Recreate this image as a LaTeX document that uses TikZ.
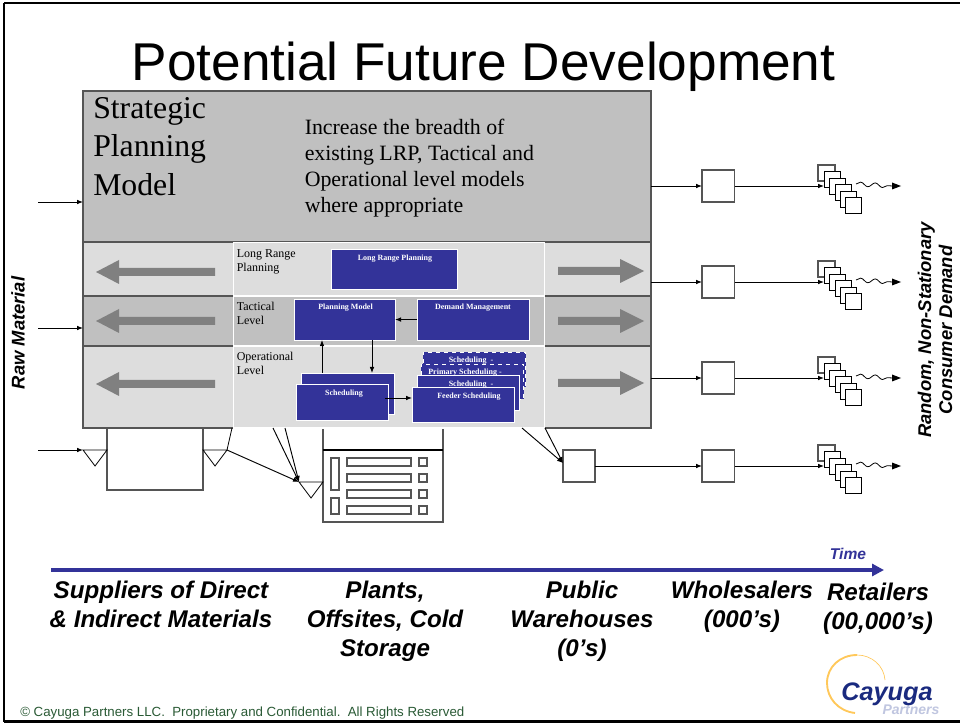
\documentclass[tikz,border=0pt]{standalone}
\usepackage{fontspec}
\setmainfont{Liberation Sans}
\newfontfamily\serifface{Liberation Serif}
\usetikzlibrary{arrows.meta,decorations.pathmorphing,calc}
\definecolor{panelblue}{HTML}{333399}
\definecolor{lightg}{HTML}{DDDDDD}
\definecolor{midg}{HTML}{C0C0C0}
\definecolor{edgeg}{HTML}{555555}
\definecolor{arrowg}{HTML}{808080}
\definecolor{footg}{HTML}{2A5A35}
\definecolor{logoy}{HTML}{FFC85A}
\definecolor{logob}{HTML}{1A2A7F}
\definecolor{logop}{HTML}{C0C6E0}
\tikzset{
 x=0.75pt,y=-0.75pt,
 band/.style={draw=edgeg,line width=1pt},
 inband/.style={draw=white,line width=1pt},
 bluebox/.style={draw=white,fill=panelblue,line width=0.7pt,inner sep=0pt,outer sep=0pt,anchor=north west},
 bluetxt/.style={text=white,font=\serifface\bfseries\fontsize{6}{7}\selectfont,anchor=north},
 flow/.style={draw=black,line width=0.7pt,-{Latex[length=4.5pt,width=3.5pt]}},
 thin flow/.style={draw=black,line width=0.6pt},
 sq/.style={draw=edgeg,line width=1pt,fill=white,inner sep=0pt,outer sep=0pt,anchor=north west},
 stacksq/.style={draw=black,line width=0.7pt,fill=white,inner sep=0pt,outer sep=0pt,minimum width=12.4pt,minimum height=12.2pt,anchor=north west},
 tri/.style={draw=black,line width=0.6pt,fill=white},
 gray arrow/.style={fill=arrowg,draw=none},
 lab/.style={font=\bfseries\itshape\fontsize{18.1}{21.8}\selectfont,align=center,text=black},
 sidel/.style={font=\bfseries\itshape\fontsize{13.8}{15.8}\selectfont,align=center,rotate=90},
 lvl/.style={font=\serifface\fontsize{9}{10.5}\selectfont,align=left,anchor=north west,inner sep=0pt},
}
\begin{document}
\begin{tikzpicture}
\useasboundingbox (0,0) rectangle (960,723);
\fill[white] (0,0) rectangle (960,723);
\draw[black,line width=1.6pt] (4,3.4) -- (960,3.4);
\draw[black,line width=1.6pt] (4,3.4) -- (4,721.5);
\draw[black,line width=1.6pt] (4,721.5) -- (960,721.5);
\node[font=\fontsize{39.9}{44}\selectfont,anchor=base] (title) at (483.5,80.5) {Potential Future Development};
% lower left shapes first
\draw[band,fill=white] (107,428) rectangle (203,490);
\draw[band,fill=white] (323,428) rectangle (443,522);
\draw[black,line width=0.8pt] (323,450) -- (443,450);
\foreach \yy in {458,474,490,506}{
 \draw[edgeg,line width=1pt] (347,\yy) rectangle (411,\yy+8);
 \draw[edgeg,line width=1pt] (419,\yy) rectangle (427,\yy+8);
}
\draw[edgeg,line width=1pt] (331,458) rectangle (339,490);
\draw[edgeg,line width=1pt] (331,498) rectangle (339,514);
% bands
\draw[band,fill=midg] (83,91) rectangle (651,242);
\draw[band,fill=lightg] (83,242) rectangle (651,296);
\draw[band,fill=midg] (83,296) rectangle (651,346);
\draw[band,fill=lightg] (83,346) rectangle (651,428);
\filldraw[inband,fill=lightg] (233.5,242.5) rectangle (544.5,295.5);
\filldraw[inband,fill=midg] (233.5,296) rectangle (544.5,346);
\filldraw[inband,fill=lightg] (233.5,346.5) rectangle (544.5,428);
% strategic text
\node[font=\serifface\fontsize{23.8}{28.9}\selectfont,align=left,anchor=north west,inner sep=0pt] (strat) at (93,97) {Strategic\\Planning\\Model};
\node[font=\serifface\fontsize{16.4}{19.5}\selectfont,align=left,anchor=north west,inner sep=0pt] (incr) at (304.5,119) {Increase the breadth of\\existing LRP, Tactical and\\Operational level models\\where appropriate};
% level labels
\node[lvl] (l1) at (236.5,249) {Long Range\\Planning};
\node[lvl] (l2) at (236.5,302) {Tactical\\Level};
\node[lvl] (l3) at (236.5,352) {Operational\\Level};
% gray arrows
\foreach \yy/\yr in {272/271,321/321,384/383}{
 \fill[gray arrow] (215,\yy-4) -- (119,\yy-4) -- (119,\yy-12) -- (96,\yy) -- (119,\yy+12) -- (119,\yy+4) -- (215,\yy+4) -- cycle;
 \fill[gray arrow] (558,\yr-4) -- (620,\yr-4) -- (620,\yr-12) -- (644,\yr) -- (620,\yr+12) -- (620,\yr+4) -- (558,\yr+4) -- cycle;
}
% blue boxes
\node[bluebox,minimum width=95.2pt,minimum height=30pt] (lrp) at (331,249) {};
\node[bluetxt] at (395,250.5) {Long Range Planning};
\node[bluebox,minimum width=75.8pt,minimum height=30.8pt] (pm) at (294,299) {};
\node[bluetxt] at (345.5,299.5) {Planning Model};
\node[bluebox,minimum width=84pt,minimum height=30.8pt] (dm) at (417,299) {};
\node[bluetxt] at (473,299.5) {Demand Management};
\node[bluebox,minimum width=69.8pt,minimum height=30.8pt] (sb) at (301,373) {};
\node[bluebox,minimum width=69pt,minimum height=27pt] (sf) at (296,384) {};
\node[bluetxt] at (344,385.5) {Scheduling};
\node[bluebox,dashed,minimum width=77.2pt,minimum height=26.3pt] (s1) at (423,352) {};
\node[bluetxt] at (471,352) {Scheduling~~-};
\node[bluebox,dashed,minimum width=77.2pt,minimum height=26.3pt] (s2) at (421,364) {};
\node[bluetxt] at (465,364) {Primary Scheduling -};
\node[bluebox,minimum width=76.5pt,minimum height=26.8pt] (s3) at (417,375) {};
\node[bluetxt] at (471,376) {Scheduling~~-};
\node[bluebox,minimum width=76.5pt,minimum height=26.8pt] (s4) at (412,387) {};
\node[bluetxt] at (469,388) {Feeder Scheduling};
\draw[flow] (dm.west) -- (pm.east);
\draw[flow] (sb.north -| 322,0) -- (pm.south -| 322,0);
\draw[flow] (pm.south -| 372,0) -- (sb.north -| 372,0);
\draw[flow] (385,398) -- (s4.west |- 0,398);
% raw material inputs
\coordinate (in1) at (38,202); \coordinate (in2) at (38,328); \coordinate (in3) at (38,450);
\coordinate (b1) at (83,202); \coordinate (b2) at (83,328);
\draw[flow] (in1) -- (b1);
\draw[flow] (in2) -- (b2);
\coordinate (t1) at (83,450); \coordinate (t2) at (227,450); \coordinate (t3) at (299,482);
\draw[flow] (in3) -- (t1);
\draw[tri] (83,450) -- (107,450) -- (95,466) -- cycle;
\draw[tri] (203,450) -- (227,450) -- (215,466) -- cycle;
\draw[tri] (299,482) -- (323,482) -- (311,498) -- cycle;
\draw[thin flow] (232,428) -- (t2);
\draw[flow] (t2) -- (t3);
\draw[flow] (273,428) -- (t3);
\draw[flow] (285,428) -- (t3);
% warehouse
\node[sq,minimum width=24pt,minimum height=24pt] (wh) at (563,450) {};
\coordinate (wh0) at (563,463);
\draw[flow] (522,428) -- (wh0);
\draw[flow] (545,428) -- (wh0);
% right rows
\foreach \nm/\yy/\st in {a/186/651,b/282/651,c/378/651,d/466/595}{
 \node[sq,minimum width=24.4pt,minimum height=24pt] (\nm box) at (702,\yy-16) {};
 \coordinate (\nm src) at (\st,\yy);
 \draw[flow] (\nm src) -- (\nm box.west);
 \draw[edgeg,line width=1pt,fill=white] (818,\yy-21) rectangle (835,\yy-5);
 \draw[flow] (\nm box.east) -- (824,\yy);
 \foreach \i/\dx/\dy in {1/6/-15,2/11/-8,3/17/-2,4/22/5,5/27/11}{
  \node[stacksq] at (818+\dx,\yy+\dy) {};
 }
 \coordinate (\nm w) at (856,\yy-2);
 \coordinate (\nm e) at (893,\yy);
 \draw[black,line width=0.6pt,decorate,decoration={snake,amplitude=1.6pt,segment length=11pt}] (\nm w) -- (\nm e);
 \fill[black] (892,\yy-3.5) -- (901,\yy) -- (892,\yy+3.5) -- cycle;
}
% side labels
\node[sidel] (raw) at (18,333) {Raw Material};
\node[sidel] (cons) at (935,330) {Random, Non-Stationary\\Consumer Demand};
% time axis
\coordinate (ts) at (51,570); \coordinate (te) at (884,570);
\draw[panelblue,line width=2.3pt,-{Triangle[length=9pt,width=9pt]}] (ts) -- (te);
\node[font=\bfseries\itshape\fontsize{11.7}{13}\selectfont,text=panelblue] (time) at (848,554) {Time};
% column labels
\node[lab,anchor=north] (c1) at (161,576) {Suppliers of Direct\\\& Indirect Materials};
\node[lab,anchor=north] (c2) at (385,576) {Plants,\\Offsites, Cold\\Storage};
\node[lab,anchor=north] (c3) at (582,576) {Public\\Warehouses\\(0’s)};
\node[lab,anchor=north] (c4) at (742,576) {Wholesalers\\(000’s)};
\node[lab,anchor=north] (c5) at (878,578) {Retailers\\(00,000’s)};
% footer
\node[font=\fontsize{9.95}{11}\selectfont,text=footg,anchor=base west,inner sep=0pt] (foot) at (20,716) {© Cayuga Partners LLC.~~Proprietary and Confidential.~~All Rights Reserved};
% logo
\draw[logoy,line width=1.4pt] (855,713) .. controls (838,711) and (827,698) .. (827,683) .. controls (827,667) and (840,655) .. (857,655);
\draw[logoy,line width=0.5pt] (857,655) .. controls (872,655) and (884,666) .. (885,680);
\node[font=\bfseries\itshape\fontsize{10.5}{11}\selectfont,text=logop,anchor=base] (logo2) at (911,714) {Partners};
\node[font=\bfseries\itshape\fontsize{19}{20}\selectfont,text=logob,anchor=base] (logo) at (887,700) {Cayuga};
\end{tikzpicture}
\end{document}
